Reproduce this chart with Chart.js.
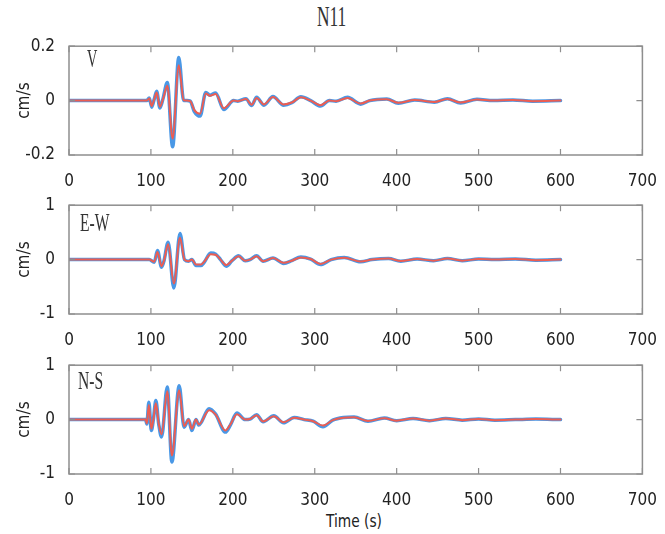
<!DOCTYPE html>
<html lang="en">
<head>
    <meta charset="utf-8">
    <title>N11</title>
    <style>
        body { margin: 0; background: #fff; width: 665px; height: 534px; position: relative; overflow: hidden; }
        canvas { position: absolute; left: 0; }
        .lbl { position: absolute; font-family: 'Liberation Serif', 'DejaVu Serif', serif; color: #333;
               line-height: 1; white-space: nowrap; transform-origin: left top; }
        #xtitle { position: absolute; font-family: 'DejaVu Sans Condensed', sans-serif;
                  font-size: 18px; color: #222; line-height: 1; transform: scaleX(0.85); transform-origin: left top; }
    </style>
</head>
<body>
    <div class="lbl" id="title" style="left:317px; top:2px; font-size:29px; transform:scaleX(0.6)">N11</div>
    <canvas id="cV" width="665" height="160" style="top:30px"></canvas>
    <canvas id="cEW" width="665" height="160" style="top:189px"></canvas>
    <canvas id="cNS" width="665" height="160" style="top:349px"></canvas>
    <div class="lbl" style="left:87px; top:46px; font-size:26px; transform:scaleX(0.55)">V</div>
    <div class="lbl" style="left:80px; top:210px; font-size:26px; transform:scaleX(0.6)">E-W</div>
    <div class="lbl" style="left:78px; top:368px; font-size:26px; transform:scaleX(0.6)">N-S</div>
    <div id="xtitle" style="left:326px; top:512px">Time (s)</div>

    <script src="https://cdn.jsdelivr.net/npm/chart.js"></script>
    <script>
        // tick labels
        const xTicks = [0, 100, 200, 300, 400, 500, 600, 700]
        const yTicksV = [-0.2, 0, 0.2]
        const yTicksH = [-1, 0, 1]

        // V component
        const tV = [0, 95, 98, 101, 104, 107, 111, 115, 120, 126.5, 134, 140, 144, 148, 153, 160, 167, 172, 179, 189,
            201, 206, 216, 223, 229, 238, 249, 262, 272, 283, 295, 307, 318, 326, 340, 356, 367, 388, 402, 422,
            446, 462, 478, 498, 518, 542, 566, 600]
        const blueV = [0, 0, 0.01, -0.024, 0.005, 0.034, -0.027, 0.01, 0.067, -0.17, 0.158, 0.0, 0.0, -0.002, -0.04, -0.057, 0.03, 0.02, 0.028, -0.033,
            0, -0.002, 0.007, -0.018, 0.012, -0.017, 0.015, -0.017, -0.008, 0.014, 0.0, -0.02, 0.0, -0.002, 0.012, -0.013, 0.0, 0.006, -0.01, 0.002,
            -0.006, 0.007, -0.009, 0.005, 0.0, 0.002, -0.002, 0.0]
        const redV = [0, 0, 0.008, -0.02, 0.004, 0.03, -0.023, 0.008, 0.055, -0.14, 0.13, 0.002, 0.0, -0.002, -0.035, -0.048, 0.026, 0.018, 0.024, -0.028,
            0, -0.002, 0.006, -0.015, 0.01, -0.014, 0.013, -0.014, -0.007, 0.012, 0.0, -0.017, 0.0, -0.002, 0.01, -0.011, 0.0, 0.005, -0.008, 0.002,
            -0.005, 0.006, -0.007, 0.004, 0.0, 0.002, -0.002, 0.0]

        // E-W component
        const tEW = [0, 98, 104, 108, 113, 116, 121, 128, 135.5, 141, 146, 150, 155, 161, 165, 173, 179, 185, 192, 199,
            207, 215, 221, 229, 237, 249, 262, 272, 283, 295, 307, 320, 336, 356, 370, 390, 405, 425, 445, 462,
            480, 500, 520, 545, 570, 600]
        const blueEW = [0, 0, -0.05, 0.165, -0.14, -0.02, 0.32, -0.52, 0.48, 0.0, -0.03, 0.0, -0.11, -0.11, -0.05, 0.12, 0.1, 0.0, -0.12, -0.02,
            0.07, -0.02, 0.0, 0.07, -0.03, 0.03, -0.07, -0.02, 0.05, 0.01, -0.09, 0.0, 0.04, -0.04, 0.0, 0.02, -0.03, 0.01, -0.02, 0.02,
            -0.02, 0.01, 0.0, 0.01, -0.01, 0.0]
        const redEW = [0, 0, -0.04, 0.14, -0.12, -0.02, 0.28, -0.44, 0.4, 0.0, -0.03, 0.0, -0.09, -0.09, -0.04, 0.1, 0.09, 0.0, -0.1, -0.02,
            0.06, -0.02, 0.0, 0.06, -0.03, 0.03, -0.06, -0.02, 0.04, 0.01, -0.08, 0.0, 0.035, -0.035, 0.0, 0.02, -0.025, 0.01, -0.02, 0.02,
            -0.02, 0.01, 0.0, 0.01, -0.01, 0.0]

        // N-S component
        const tNS = [0, 93.5, 95, 97.5, 100.5, 103, 106, 109.5, 113, 120, 125.6, 134.5, 140.5, 146, 150, 155, 158.5, 171, 179, 191,
            197, 205, 215, 221, 229, 237, 250, 262, 275, 287, 298, 310, 322, 335, 348, 365, 385, 400, 420, 440,
            460, 480, 500, 520, 545, 570, 600]
        const blueNS = [0, 0, -0.08, 0.32, -0.2, 0.0, 0.35, -0.08, -0.32, 0.6, -0.78, 0.62, -0.14, 0.0, -0.2, 0.0, -0.1, 0.2, 0.1, -0.23,
            -0.1, 0.12, 0.0, 0.01, 0.09, -0.04, 0.07, -0.06, 0.04, 0.0, -0.03, -0.13, -0.01, 0.04, 0.05, -0.03, 0.03, -0.02, 0.02, -0.02,
            0.02, -0.01, 0.01, -0.01, 0.0, 0.01, 0.0]
        const redNS = [0, 0, -0.07, 0.27, -0.17, 0.0, 0.3, -0.07, -0.27, 0.52, -0.66, 0.54, -0.12, 0.0, -0.17, 0.0, -0.09, 0.17, 0.09, -0.2,
            -0.09, 0.1, 0.0, 0.01, 0.08, -0.035, 0.06, -0.05, 0.035, 0.0, -0.03, -0.11, -0.01, 0.035, 0.045, -0.025, 0.025, -0.02, 0.02, -0.02,
            0.02, -0.01, 0.01, -0.01, 0.0, 0.01, 0.0]

        const tickFont = { family: "'DejaVu Sans Condensed', sans-serif", size: 17 }
        const textColor = '#222'
        const boxColor = '#8e8e8e'

        // box frame with inward ticks, like the original figure
        const boxPlugin = {
            id: 'box',
            afterDatasetsDraw(chart) {
                const { ctx, chartArea: a, scales } = chart
                ctx.save()
                ctx.strokeStyle = boxColor
                ctx.lineWidth = 1.5
                ctx.strokeRect(a.left, a.top, a.right - a.left, a.bottom - a.top)
                ctx.lineWidth = 1.2
                ctx.beginPath()
                scales.x.ticks.forEach(t => {
                    const px = scales.x.getPixelForValue(t.value)
                    ctx.moveTo(px, a.bottom); ctx.lineTo(px, a.bottom - 6)
                    ctx.moveTo(px, a.top); ctx.lineTo(px, a.top + 6)
                })
                scales.y.ticks.forEach(t => {
                    const py = scales.y.getPixelForValue(t.value)
                    ctx.moveTo(a.left, py); ctx.lineTo(a.left + 6, py)
                    ctx.moveTo(a.right, py); ctx.lineTo(a.right - 6, py)
                })
                ctx.stroke()
                ctx.restore()
            }
        }

        function make_chart(id, times, blue, red, yTicks) {
            const lim = yTicks[yTicks.length - 1]
            const config = {
                type: 'line',
                data: {
                    datasets: [
                        {
                            // red drawn on top of blue
                            order: 0,
                            data: times.map((t, i) => ({ x: t, y: red[i] })),
                            borderColor: '#ec5d52',
                            borderWidth: 2,
                        },
                        {
                            order: 1,
                            data: times.map((t, i) => ({ x: t, y: blue[i] })),
                            borderColor: '#4a98e6',
                            borderWidth: 3.5,
                        }
                    ]
                },
                options: {
                    responsive: false,
                    animation: false,
                    events: [],
                    layout: { padding: { top: 15, right: 17, left: 0, bottom: 0 } },
                    elements: {
                        point: { radius: 0 },
                        line: { cubicInterpolationMode: 'monotone', borderCapStyle: 'round', borderJoinStyle: 'round' }
                    },
                    plugins: { legend: { display: false }, tooltip: { enabled: false } },
                    scales: {
                        x: {
                            type: 'linear', min: 0, max: 700,
                            afterBuildTicks: s => { s.ticks = xTicks.map(v => ({ value: v })) },
                            afterFit: s => { s.height = 35 },
                            grid: { display: false },
                            border: { display: false },
                            ticks: { font: tickFont, color: textColor, padding: 8, maxRotation: 0 }
                        },
                        y: {
                            min: -lim, max: lim,
                            afterBuildTicks: s => { s.ticks = yTicks.map(v => ({ value: v })) },
                            afterFit: s => { s.width = 69 },
                            grid: { display: false },
                            border: { display: false },
                            ticks: { font: tickFont, color: textColor, padding: 6 },
                            title: {
                                display: true, text: 'cm/s', color: textColor,
                                font: { family: "'DejaVu Sans Condensed', sans-serif", size: 17 },
                                padding: { top: 14, bottom: 0 }
                            }
                        }
                    }
                },
                plugins: [boxPlugin]
            }
            return new Chart(document.getElementById(id).getContext('2d'), config)
        }

        make_chart('cV', tV, blueV, redV, yTicksV)
        make_chart('cEW', tEW, blueEW, redEW, yTicksH)
        make_chart('cNS', tNS, blueNS, redNS, yTicksH)
    </script>
</body>
</html>
